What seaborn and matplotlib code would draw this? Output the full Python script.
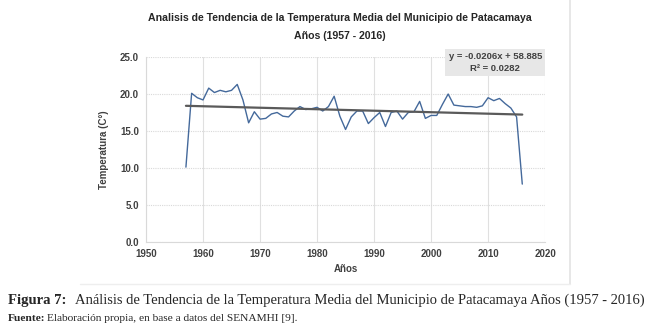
import numpy as np
import pandas as pd
import seaborn as sns
import matplotlib
matplotlib.use("Agg")
import matplotlib.pyplot as plt
from matplotlib.lines import Line2D

years = list(range(1957, 2017))
temps = [10.1, 20.1, 19.5, 19.2, 20.8, 20.2, 20.5, 20.3, 20.5, 21.3,
         19.2, 16.1, 17.6, 16.6, 16.7, 17.3, 17.5, 17.0, 16.9, 17.7,
         18.3, 17.9, 18.0, 18.2, 17.7, 18.3, 19.7, 17.0, 15.2, 16.9,
         17.7, 17.7, 16.0, 16.8, 17.5, 15.6, 17.5, 17.7, 16.6, 17.5,
         17.6, 19.0, 16.7, 17.1, 17.1, 18.6, 20.0, 18.5, 18.4, 18.3,
         18.3, 18.2, 18.4, 19.5, 19.1, 19.4, 18.7, 18.1, 16.9, 7.8]
x_ticks = [1950, 1960, 1970, 1980, 1990, 2000, 2010, 2020]
y_ticks = [0.0, 5.0, 10.0, 15.0, 20.0, 25.0]
title = "Analisis de Tendencia de la Temperatura Media del Municipio de Patacamaya\nAños (1957 - 2016)"
eq_text = "y = -0.0206x + 58.885\nR² = 0.0282"

df = pd.DataFrame({"Año": years, "Temp": temps})

sns.set_theme(style="white")
plt.rcParams['font.family'] = ['Liberation Sans', 'DejaVu Sans']

fig = plt.figure(figsize=(6.51, 3.32), dpi=100)
ax = fig.add_axes([0.2243, 0.272, 0.613, 0.556])

sns.lineplot(data=df, x="Año", y="Temp", ax=ax, color="#44699b", linewidth=1.0)
sns.regplot(data=df, x="Año", y="Temp", ax=ax, scatter=False, ci=None,
            color="#5a5a5a", line_kws={"linewidth": 1.6}, truncate=True)

ax.set_xlim(1950, 2020)
ax.set_ylim(0, 25)
ax.set_xticks(x_ticks)
ax.set_yticks(y_ticks)
ax.set_xticklabels([str(v) for v in x_ticks], fontsize=7, fontweight="bold", color="#404040")
ax.set_yticklabels([f"{v:.1f}" for v in y_ticks], fontsize=7, fontweight="bold", color="#404040")
ax.tick_params(axis="both", length=0, pad=5)
ax.grid(axis="y", color="#d9d9d9", linestyle=(0, (1, 1)), linewidth=0.8)
ax.grid(axis="x", color="#e0e0e0", linestyle="-", linewidth=0.8)
for s in ["top", "right"]:
    ax.spines[s].set_visible(False)
for s in ["left", "bottom"]:
    ax.spines[s].set_color("#d9d9d9")
    ax.spines[s].set_linewidth(0.8)

ax.set_xlabel("Años", fontsize=7, fontweight="bold", color="#404040", labelpad=4)
ax.set_ylabel("Temperatura (C°)", fontsize=7, fontweight="bold", color="#404040", labelpad=8)

fig.text(0.522, 0.918, title, ha="center", va="center", fontsize=7.6, fontweight="bold",
         color="#262626", linespacing=1.95)

ax.text(0.875, 0.970, eq_text, transform=ax.transAxes, ha="center", va="center",
        fontsize=6.8, fontweight="bold", color="#404040", linespacing=1.35,
        bbox=dict(boxstyle="square,pad=0.35", facecolor="#e7e7e7", edgecolor="none"))

# chart frame lines
fig.add_artist(Line2D([0.876, 0.876], [0.145, 1.0], color="#e3e3e3", linewidth=1.2))
fig.add_artist(Line2D([0.123, 0.876], [0.145, 0.145], color="#eeeeee", linewidth=1.0))

serif = ["Liberation Serif", "DejaVu Serif"]
fig.text(0.012, 0.095, "Figura 7:", fontsize=10.5, fontweight="bold",
         family=serif, ha="left", va="center")
fig.text(0.115, 0.095, "Análisis de Tendencia de la Temperatura Media del Municipio de Patacamaya Años (1957 - 2016)",
         fontsize=10.55, family=serif, ha="left", va="center")
fig.text(0.012, 0.04, "Fuente:", fontsize=8.2, fontweight="bold",
         family=serif, ha="left", va="center")
fig.text(0.072, 0.04, "Elaboración propia, en base a datos del SENAMHI [9].",
         fontsize=8.2, family=serif, ha="left", va="center")

fig.savefig("out.png", dpi=100)
